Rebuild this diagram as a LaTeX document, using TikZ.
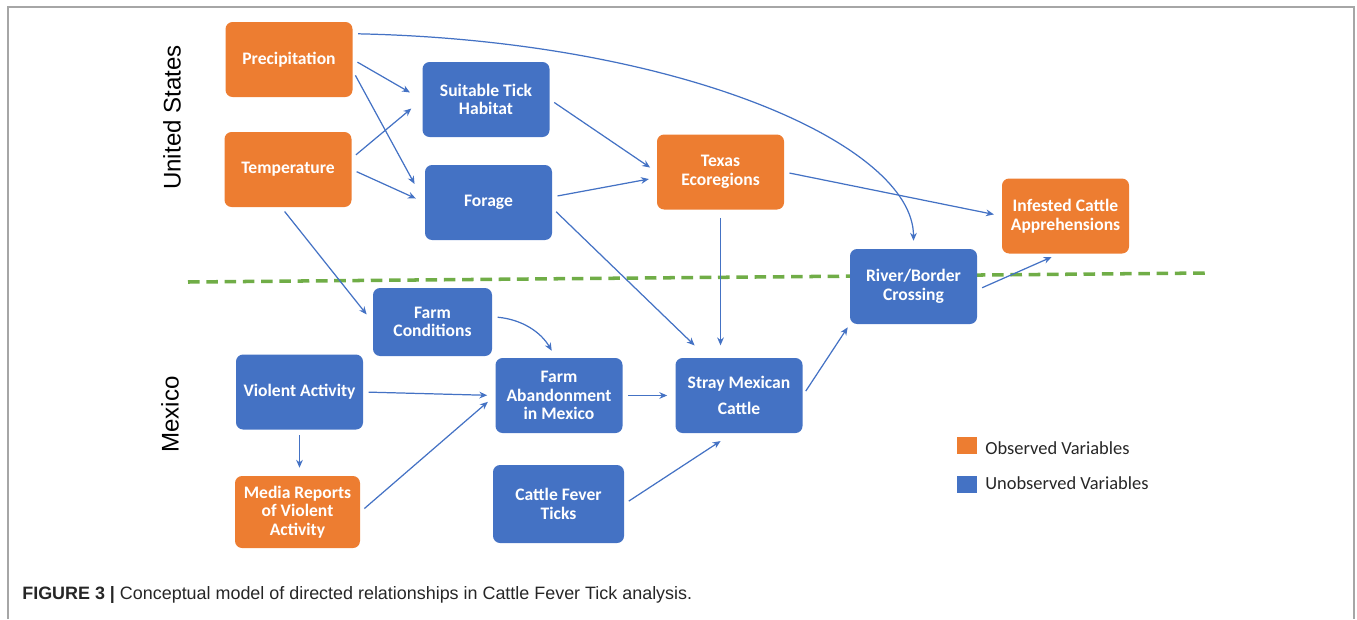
\documentclass[tikz,border=0pt]{standalone}
\usepackage{fontspec}
\setmainfont{Carlito}
\newfontfamily\arialfont{Liberation Sans}
\usetikzlibrary{arrows.meta}
\definecolor{obsorange}{HTML}{ED7D31}
\definecolor{unobsblue}{HTML}{4472C4}
\definecolor{bordergreen}{HTML}{70AD47}

\begin{document}
\begin{tikzpicture}[
  var/.style={rounded corners=4pt, minimum width=2.54cm, minimum height=1.5cm, inner sep=1pt, text=white, align=center, font=\bfseries\fontsize{10}{10.6}\selectfont},
  obs/.style={var, fill=obsorange},
  unobs/.style={var, fill=unobsblue},
  link/.style={draw=unobsblue, line width=0.7pt, -{Stealth[length=4.5pt,width=3.8pt]}, shorten <=3pt, shorten >=4.5pt},
  region/.style={rotate=90, font=\arialfont\fontsize{13.7}{16}\selectfont},
  legendkey/.style={minimum width=0.4cm, minimum height=0.34cm, inner sep=0pt},
  legendtext/.style={anchor=west, inner sep=0pt, text=black!85, font=\fontsize{10.5}{12}\selectfont}
]
\useasboundingbox (0,0) rectangle (27.14,-12.38);
\draw[gray!70, line width=1pt] (0.16,-12.38) |- (27.08,-0.14) -- (27.08,-12.38);

\draw[bordergreen, line width=2pt, dash pattern=on 6.6pt off 3.8pt] (3.76,-5.64) -- (24.16,-5.46);

\node[region] (us) at (3.44,-2.35) {United States};
\node[region] (mexico) at (3.40,-8.29) {Mexico};

\node[obs] (prec) at (5.78,-1.19) {Precipitation};
\node[obs] (temp) at (5.76,-3.39) {Temperature};
\node[unobs] (habitat) at (9.72,-1.99) {Suitable Tick\\Habitat};
\node[unobs] (forage) at (9.77,-4.05) {Forage};
\node[obs] (texas) at (14.41,-3.44) {Texas\\Ecoregions};
\node[obs] (infested) at (21.31,-4.32) {Infested Cattle\\Apprehensions};
\node[unobs] (river) at (18.27,-5.73) {River/Border\\Crossing};
\node[unobs, minimum width=2.38cm, minimum height=1.36cm] (farmcond) at (8.65,-6.44) {Farm\\Conditions};
\node[unobs] (violent) at (5.99,-7.84) {Violent Activity};
\node[obs, minimum width=2.5cm, minimum height=1.44cm] (media) at (5.95,-10.24) {Media Reports\\of Violent\\Activity};
\node[unobs] (abandon) at (11.18,-7.91) {Farm\\Abandonment\\in Mexico};
\node[unobs] (stray) at (14.78,-7.91) {Stray Mexican\\[4pt]Cattle};
\node[unobs, minimum width=2.62cm, minimum height=1.56cm] (ticks) at (11.17,-10.08) {Cattle Fever\\Ticks};

\draw[link, shorten >=8pt] (prec.east) -- (habitat.west);
\draw[link, shorten >=12pt] (prec.-10) -- (forage.west);
\draw[link, shorten >=8pt] (temp.10) -- (habitat.west);
\draw[link, shorten >=5.5pt] (temp.east) -- (forage.west);
\draw[link] (habitat.east) -- (texas.west);
\draw[link] (forage.5) -- (texas.185);
\draw[link, shorten >=10pt] (forage.-5) -- (stray.130);
\draw[link, shorten <=4.5pt, shorten >=7pt] (texas.south) -- (texas.south |- stray.north);
\draw[link] (prec.22) .. controls +(6.54,-0.14) and +(0,2.08) .. (river.north);
\draw[link] (texas.east) -- (infested.west);
\draw[link] (river.-3) -- (infested.260);
\draw[link, shorten >=5.5pt] (temp.260) -- (farmcond.west);
\draw[link] (farmcond.5) to[out=-5, in=120] (abandon.95);
\draw[link] (violent.east) -- (abandon.west);
\draw[link] (violent.south) -- (violent.south |- media.north);
\draw[link, shorten >=5.5pt] (media.east) -- (abandon.west);
\draw[link] (abandon.east) -- (stray.west);
\draw[link, shorten >=8pt] (ticks.east) -- (stray.260);
\draw[link, shorten >=2pt] (stray.east) -- (river.south west);

\node[legendkey, fill=obsorange] (obskey) at (19.34,-8.91) {};
\node[legendtext] (obslabel) at (19.7,-8.96) {Observed Variables};
\node[legendkey, fill=unobsblue] (unobskey) at (19.34,-9.68) {};
\node[legendtext] (unobslabel) at (19.7,-9.66) {Unobserved Variables};

\node[anchor=west, inner sep=0pt, text=black!85, font=\arialfont\fontsize{10.2}{12}\selectfont] (caption) at (0.44,-11.9) {\textbf{FIGURE 3 |} Conceptual model of directed relationships in Cattle Fever Tick analysis.};
\end{tikzpicture}
\end{document}
